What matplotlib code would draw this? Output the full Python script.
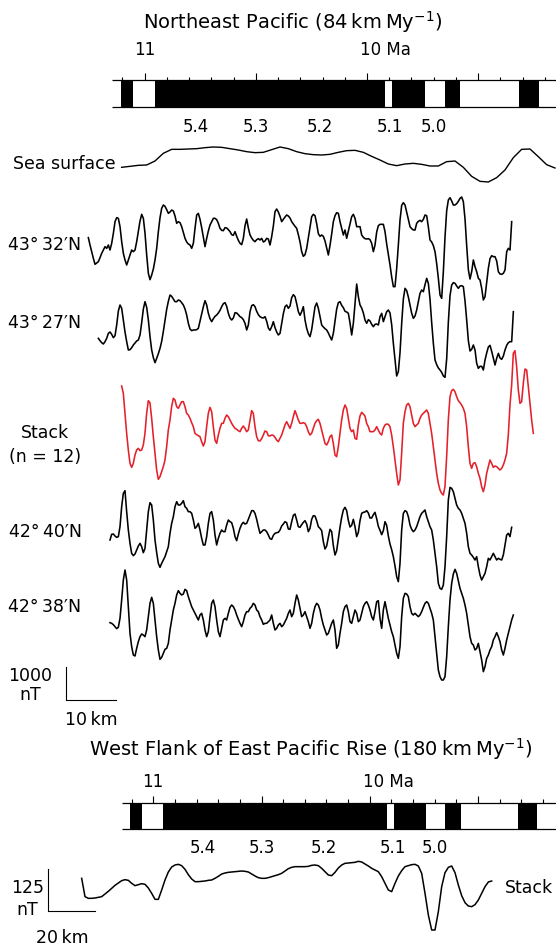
import matplotlib
matplotlib.use("Agg")
import matplotlib.pyplot as plt
import numpy as np

plt.rcParams['font.family'] = ['DejaVu Sans']
plt.rcParams['mathtext.fontset'] = 'dejavusans'

W, H = 556, 949

# ---------------- data ----------------
# normal polarity intervals (Ma) = black blocks of the time scale
normalChrons = [(11.105, 11.053), (10.953, 9.920), (9.886, 9.739), (9.651, 9.580), (9.314, 9.228)]
chronNames = ["5.4", "5.3", "5.2", "5.1", "5.0"]
chronLabelAge = [10.77, 10.50, 10.21, 9.895, 9.70]
tickAges = np.round(np.arange(9.2, 11.15, 0.1), 1)

# Northeast Pacific: anomalies in nT, one sample every 1/3 km along track
dxKm = 1.0 / 3.0

seaStartKm, seaDxKm = 8.33, 5.0 / 3.0
seaSurface = [
    -70, -40, -10, 0, 120, 350, 470, 470, 480, 490,
    520, 540, 530, 490, 450, 400, 370, 380, 460, 540,
    490, 400, 340, 310, 300, 320, 380, 430, 440, 380,
    260, 150, 30, -20, 30, 50, 20, -30, -30, 100,
    120, -70, -340, -490, -510, -380, -150, 220, 470, 480,
    250, 10, -90]

p4332Start = 1.67
p4332 = [
    220, 0, -200, -400, -580, -540, -500, -380, -250, -150,
    -50, -100, 0, -150, 50, 350, 700, 820, 800, 550,
    100, -250, -450, -600, -450, -300, -150, -200, -150, 100,
    400, 720, 920, 800, 350, -300, -850, -1040, -900, -720,
    -450, -100, 400, 820, 1100, 1200, 1160, 1060, 950, 990,
    1050, 1020, 870, 650, 700, 670, 550, 380, 200, 90,
    30, 0, -100, 50, 500, 900, 950, 770, 520, 230,
    -50, 200, 420, 600, 700, 800, 800, 760, 650, 500,
    440, 430, 520, 510, 460, 400, 310, 290, 400, 260,
    140, 50, 10, 200, 580, 780, 510, 300, 210, 140,
    100, 160, 190, 150, 200, 90, 120, 200, 180, 0,
    250, 570, 1000, 1080, 990, 860, 700, 770, 840, 900,
    870, 810, 700, 630, 560, 500, 310, 90, -200, -340,
    -290, -100, 210, 530, 850, 920, 880, 640, 340, 260,
    300, 260, 120, -90, -300, -10, 330, 700, 880, 970,
    950, 700, 500, 300, 450, 200, 410, 630, 850, 920,
    800, 550, 550, 550, 300, 230, 190, 180, 190, 160,
    50, -200, 0, 390, 580, 620, 620, 620, 400, 30,
    -290, -600, -960, -1250, -1250, -700, 0, 750, 1190, 1270,
    1200, 990, 770, 550, 490, 450, 450, 650, 710, 740,
    700, 770, 900, 880, 540, 150, 90, -20, -200, -560,
    -1000, -1500, -1600, -800, 240, 1030, 1350, 1420, 1320, 1200,
    1200, 1240, 1310, 1400, 1440, 1300, 780, -20, -740, -1020,
    -800, -450, -650, -800, -1000, -1050, -1300, -1650, -1550, -1130,
    -700, -410, -320, -350, -350, -480, -800, -870, -880, -850,
    -750, -200, -100, -150, 700]

p4327Start = 3.67
p4327 = [
    -250, -320, -380, -420, -350, -250, -100, -60, -130, -230,
    -170, 150, 570, 750, 650, 300, -60, -350, -600, -590,
    -530, -450, -390, -330, -300, -150, 220, 630, 850, 680,
    300, -200, -600, -830, -980, -850, -710, -550, -340, -40,
    300, 620, 860, 1050, 1010, 930, 850, 850, 900, 880,
    820, 750, 630, 450, 200, 30, -20, 0, 0, 10,
    50, 270, 480, 700, 880, 750, 500, 340, 250, 340,
    410, 450, 510, 590, 700, 790, 820, 710, 500, 360,
    300, 360, 520, 510, 460, 400, 370, 310, 200, 0,
    150, 550, 730, 760, 700, 560, 460, 400, 370, 360,
    400, 260, 60, -10, 100, 250, 70, -60, -150, -100,
    200, 490, 700, 750, 650, 720, 970, 1060, 1000, 790,
    550, 440, 550, 700, 300, 50, -110, -200, 10, 350,
    700, 810, 650, 400, 150, 90, 40, 0, -90, -200,
    -300, -100, 260, 630, 820, 850, 740, 670, 560, 540,
    500, 210, -150, 200, 800, 1380, 1000, 750, 660, 510,
    300, 200, 310, 270, 170, 100, 170, 180, 150, 400,
    500, 250, 400, 550, 600, 510, 160, -400, -900, -1380,
    -1250, -680, 200, 930, 1250, 1180, 990, 750, 500, 350,
    420, 600, 850, 1100, 1200, 1150, 1360, 1550, 1400, 920,
    220, -400, -900, -1040, -1140, -1200, -1270, -1380, -1420, -860,
    240, 1030, 1350, 1420, 1400, 1320, 1250, 1320, 1330, 1300,
    870, 300, -320, -630, -580, -450, -600, -1000, -1150, -1090,
    -1090, -1200, -900, -690, -510, -460, -640, -850, -1050, -850,
    -700, -840, -880, -780, -600, -460, -380, -350, -350, 550]

stackStart = 8.33
stackNE = [
    1470, 1250, 650, 50, -450, -850, -970, -850, -600, -450,
    -400, -470, -450, -300, 50, 650, 1030, 970, 500, -50,
    -550, -1050, -1330, -1250, -1100, -950, -750, -350, 150, 450,
    850, 1100, 1050, 850, 800, 900, 1000, 1000, 850, 650,
    600, 500, 370, 250, 50, 10, -20, -50, -200, -330,
    -200, 250, 650, 830, 700, 250, -150, -250, 0, 200,
    350, 350, 500, 600, 550, 450, 350, 270, 200, 170,
    130, 100, 200, 270, 200, 100, 150, 450, 730, 650,
    250, -50, -170, -180, -110, 0, 120, 100, -20, -30,
    0, -10, -70, -150, -200, -100, 0, 150, 300, 400,
    300, 200, 350, 550, 730, 600, 450, 350, 350, 370,
    350, 250, 100, 0, 50, 200, 350, 430, 470, 350,
    150, -50, -250, -300, -200, -50, 0, -250, -600, -650,
    -350, 50, 450, 750, 900, 800, 500, 200, 100, 150,
    -100, -130, 300, 570, 680, 630, 570, 350, 250, 100,
    100, 100, 150, 250, 150, 50, 0, 200, 300, 330,
    320, 250, 0, -350, -750, -1150, -1500, -1350, -550, 350,
    700, 900, 950, 850, 600, 350, 250, 300, 350, 500,
    600, 650, 700, 750, 650, 350, 50, -350, -750, -1150,
    -1450, -1650, -1750, -1800, -1550, -650, 450, 1150, 1330, 1370,
    1300, 1150, 1030, 970, 900, 800, 650, 250, -350, -850,
    -1000, -850, -830, -950, -1150, -1300, -1550, -1700, -1500, -1150,
    -950, -750, -850, -970, -930, -950, -1000, -1050, -1000, -900,
    -750, -550, 0, 900, 1500, 2450, 2530, 2050, 1350, 950,
    1000, 1550, 1980, 1950, 1450, 950, 450, 50]

p4240Start = 6.0
p4240 = [
    -150, 20, 30, -30, -70, -50, 250, 850, 1250, 1330,
    700, 150, -250, -550, -620, -570, -450, -330, -250, -350,
    -530, -400, 150, 700, 970, 900, 450, -150, -530, -850,
    -970, -850, -750, -650, -500, -350, 50, 350, 550, 850,
    1000, 900, 900, 950, 1030, 850, 800, 700, 700, 650,
    450, 200, 250, 350, 150, -100, -300, -300, -50, 350,
    650, 700, 450, 0, -300, -100, 50, 150, 100, 100,
    300, 450, 400, 370, 200, -50, -170, 30, 200, 320,
    380, 330, 350, 470, 600, 730, 730, 650, 470, 250,
    50, 100, 150, 150, 100, 0, -110, -130, -10, 50,
    70, 80, 150, 270, 330, 400, 370, 180, 170, 400,
    590, 630, 450, 250, 230, 310, 380, 430, 330, 100,
    200, 470, 580, 570, 430, 250, 200, 130, -200, -420,
    -330, -70, 170, 100, -320, -600, -470, -110, 230, 530,
    750, 830, 730, 440, 240, 290, 470, 250, -50, 80,
    430, 650, 680, 690, 730, 660, 510, 510, 610, 680,
    490, 260, 140, 10, 130, 400, 290, -30, -270, -440,
    -650, -930, -1250, -1400, -850, 150, 650, 730, 700, 550,
    300, 170, 100, 150, 250, 400, 550, 650, 700, 750,
    550, 400, 250, 150, -150, -550, -950, -1450, -1600, -1630,
    -1500, -950, -50, 1050, 1430, 1400, 1300, 1100, 900, 800,
    750, 650, 500, 350, 50, -350, -550, -600, -670, -750,
    -650, -950, -1200, -1350, -1250, -1150, -950, -700, -750, -650,
    -550, -650, -750, -700, -730, -750, -600, -300, 0, 50,
    -50, 230]

p4238Start = 6.0
p4238 = [
    70, 50, 10, -50, -110, -70, 200, 750, 1350, 1650,
    1350, 550, -250, -650, -900, -930, -700, -500, -350, -270,
    -300, -350, -150, 250, 650, 830, 650, 150, -350, -750,
    -1030, -970, -850, -730, -700, -550, -150, 150, 450, 650,
    900, 1030, 950, 900, 930, 1070, 1030, 850, 700, 550,
    450, 350, 250, 150, 300, 350, 150, -150, -350, -200,
    250, 650, 750, 550, 150, -200, -350, -100, 150, 200,
    150, 350, 530, 600, 550, 450, 300, 170, 50, -50,
    100, 300, 400, 400, 500, 550, 650, 600, 450, 400,
    250, 150, 20, 50, 50, 100, 150, 300, 50, -150,
    -100, 0, 50, -50, 0, 100, 200, 350, 450, 250,
    350, 650, 900, 750, 500, 250, 300, 400, 250, 100,
    -100, 50, 350, 550, 650, 600, 450, 200, 0, -150,
    -300, -250, -100, 50, 150, -150, -700, -600, -250, 50,
    400, 550, 600, 400, 100, 50, 250, 450, 350, 100,
    150, 350, 550, 650, 700, 600, 450, 250, 150, 400,
    700, 730, 200, -100, 450, 700, 450, 200, 0, -200,
    -350, -600, -850, -1000, -650, 250, 800, 950, 930, 850,
    550, 350, 300, 350, 300, 250, 300, 400, 530, 650,
    700, 650, 500, 350, 150, -350, -850, -1350, -1550, -1650,
    -1650, -1550, -950, -50, 750, 1250, 1530, 1670, 1550, 1330,
    1100, 950, 800, 600, 350, 0, -350, -550, -600, -750,
    -700, -550, -800, -1050, -1400, -1250, -1000, -900, -750, -650,
    -450, -350, -230, -350, -500, -750, -900, -700, -450, -250,
    -50, 150, 300]

# West flank of the East Pacific Rise stack: nT, one sample every 10/7 km
eprStart, eprDx = 17.86, 10.0 / 7.0
stackEPR = [
    5, -50, -55, -55, -54, -52, -50, -42, -34, -25,
    -16, -9, -2, 1, -1, -10, -17, -14, -11, -13,
    -24, -40, -58, -58, -30, 0, 24, 39, 45, 47,
    43, 32, 16, 3, -5, -5, -4, -3, -1, 0,
    5, 11, 18, 21, 23, 24, 25, 26, 27, 26,
    24, 18, 12, 7, 5, 5, 7, 10, 13, 16,
    20, 27, 34, 38, 40, 40, 40, 40, 41, 44,
    45, 43, 35, 25, 15, 13, 23, 36, 45, 50,
    51, 52, 53, 56, 54, 48, 42, 35, 30, 25,
    10, -10, -30, -35, -10, 12, 28, 40, 43, 46,
    47, 42, 20, -40, -105, -150, -150, -95, -20, 22,
    38, 42, 22, -15, -47, -68, -78, -80, -74, -60,
    -40, -20, -6, -3]

# ---------------- figure ----------------
fig = plt.figure(figsize=(W / 100, H / 100), dpi=100)


def layer(xlim, ylim):
    ax = fig.add_axes([0, 0, 1, 1])
    ax.set_xlim(xlim)
    ax.set_ylim(ylim)
    ax.axis('off')
    return ax


def timescale(ax, yTop, yBot, leftAge, minorLen, majorLen, ageY, chronY):
    right = ax.get_xlim()[1]
    ax.hlines([yTop, yBot], leftAge, right, color='k', lw=0.9)
    for old, young in normalChrons:
        ax.fill_between([old, young], yTop, yBot, color='k', lw=0)
    for a in tickAges:
        major = abs(a * 2 - round(a * 2)) < 1e-6
        ax.vlines(a, yTop - (majorLen if major else minorLen), yTop, color='k', lw=0.8)
    ax.text(11.0, ageY, "11", ha='center', va='baseline', fontsize=12)
    ax.text(10.03, ageY, "10 Ma", ha='left', va='baseline', fontsize=12)
    for name, age in zip(chronNames, chronLabelAge):
        ax.text(age, chronY, name, ha='center', va='baseline', fontsize=12)


def profile(ax, start, dx, vals, basePx, nTperPx, **kw):
    vals = np.asarray(vals, float)
    x = start + dx * np.arange(len(vals))
    ax.plot(x, vals - nTperPx * basePx, solid_joinstyle='round', **kw)


txt = layer((0, W), (H, 0))

# time scales (x in Ma)
topBar = layer((11 + 144.7 / 222.3, 11 - (W - 144.7) / 222.3), (H, 0))
timescale(topBar, 80, 106.7, 11.148, 3, 7, 55, 131.7)
botBar = layer((11 + 153.2 / 216.6, 11 - (W - 153.2) / 216.6), (H, 0))
timescale(botBar, 803.3, 829.3, 11.143, 4, 7.3, 786.7, 853.3)

# NE Pacific profiles: x in km (5 px per km), y in nT (30 nT per px)
ne = layer((-80 / 5, (W - 80) / 5), (-30 * H, 0))
profile(ne, seaStartKm, seaDxKm, seaSurface, 165, 30, color='k', lw=1.0)
profile(ne, p4332Start, dxKm, p4332, 245, 30, color='k', lw=1.15)
profile(ne, p4327Start, dxKm, p4327, 330, 30, color='k', lw=1.15)
profile(ne, stackStart, dxKm, stackNE, 435, 30, color='#e4202a', lw=1.15)
profile(ne, p4240Start, dxKm, p4240, 535, 30, color='k', lw=1.15)
profile(ne, p4238Start, dxKm, p4238, 625, 30, color='k', lw=1.15)
sx, sy = -2.88, -30 * 700
ne.plot([sx, sx, sx + 10], [sy + 1000, sy, sy], color='k', lw=0.8)

# EPR stack: x in km (7/3 px per km), y in nT (3 nT per px)
epr = layer((-40 * 3 / 7, (W - 40) * 3 / 7), (-3 * H, 0))
profile(epr, eprStart, eprDx, stackEPR, 880, 3, color='k', lw=1.1)
ex, ey = 3.39, -3 * 910.7
epr.plot([ex, ex, ex + 20], [ey + 125, ey, ey], color='k', lw=0.8)

# text
fs = 12.5
txt.text(293, 28.5, "Northeast Pacific (84\u2009km\u2009My$^{-1}$)", ha='center', va='baseline', fontsize=14)
txt.text(310.5, 755.5, "West Flank of East Pacific Rise (180\u2009km\u2009My$^{-1}$)", ha='center', va='baseline', fontsize=14)
txt.text(116, 169, "Sea surface", ha='right', va='baseline', fontsize=fs)
for name, base in [("43°\u200932′N", 250), ("43°\u200927′N", 328), ("42°\u200940′N", 537.3), ("42°\u200938′N", 612.3)]:
    txt.text(81.6, base, name, ha='right', va='baseline', fontsize=fs)
txt.text(45, 438.3, "Stack", ha='center', va='baseline', fontsize=fs)
txt.text(45, 462.3, "(n = 12)", ha='center', va='baseline', fontsize=fs)
txt.text(30, 680.7, "1000", ha='center', va='baseline', fontsize=fs)
txt.text(30, 700, "nT", ha='center', va='baseline', fontsize=fs)
txt.text(91, 725, "10\u2009km", ha='center', va='baseline', fontsize=fs)
txt.text(27.5, 893.3, "125", ha='center', va='baseline', fontsize=fs)
txt.text(27, 915, "nT", ha='center', va='baseline', fontsize=fs)
txt.text(62, 943.3, "20\u2009km", ha='center', va='baseline', fontsize=fs)
txt.text(505, 893.3, "Stack", ha='left', va='baseline', fontsize=fs)

fig.savefig("out.png", dpi=100)
